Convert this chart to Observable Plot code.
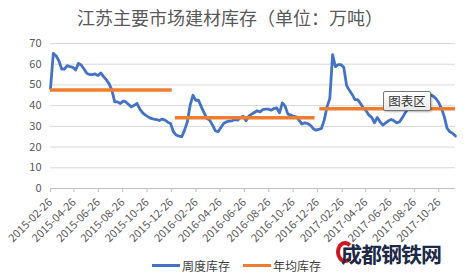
<!DOCTYPE html>
<html>
<head>
<meta charset="utf-8">
<script src="https://cdn.jsdelivr.net/npm/d3@7"></script>
<script src="https://cdn.jsdelivr.net/npm/@observablehq/plot@0.6"></script>
<style>
  html, body { margin: 0; padding: 0; background: #ffffff; }
  #wrap { position: relative; width: 471px; height: 276px; overflow: hidden; font-family: "Noto Sans CJK SC", "Noto Sans", sans-serif; }
  #title { position: absolute; left: 0; top: 4px; width: 460px; text-align: center; font-size: 18px; color: #595959; }
  .leg { position: absolute; top: 257px; font-size: 12px; color: #404040; display: flex; align-items: center; }
  .leg span.sw { display: inline-block; width: 28px; height: 3px; margin-right: 2px; }
  #tip { position: absolute; left: 383px; top: 91px; width: 46px; height: 18px; border: 1px solid #767676; border-radius: 2px;
         background: linear-gradient(#ffffff, #e8e8e8); box-shadow: 1px 1px 2px rgba(0,0,0,0.3); font-size: 12.5px; color: #333;
         text-align: center; line-height: 18px; }
  #arc { position: absolute; left: 336px; top: 241px; width: 18px; height: 22px; border: 4px solid #c8191e;
         border-right-color: transparent; border-radius: 50%; box-sizing: border-box; }
  #logo { position: absolute; left: 341px; top: 238px; font-size: 21px; font-weight: bold; color: #1c2a48; letter-spacing: -1px; }
</style>
</head>
<body>
<div id="wrap">
  <div id="chart"></div>
  <div id="title">江苏主要市场建材库存（单位：万吨）</div>
  <div class="leg" style="left:152px"><span class="sw" style="background:#4472C4"></span>周度库存</div>
  <div class="leg" style="left:243px"><span class="sw" style="background:#ED7D31"></span>年均库存</div>
  <div id="tip">图表区</div>
  <div id="arc"></div>
  <div id="logo">成都钢铁网</div>
</div>
<script>
const startDate = "2015-02-26";
const endDate = "2017-12-07";

const weeklyStock = [
  48.2, 65.2, 64.1, 61.7, 57.7, 57.7, 59.3, 58.8, 58.5, 57.2,
  60.4, 59.6, 57.7, 55.6, 55.0, 55.0, 55.3, 54.5, 55.8, 54.0,
  52.5, 50.5, 47.4, 41.8, 41.8, 41.0, 42.2, 41.8, 40.5, 39.4,
  40.2, 41.0, 38.3, 36.5, 35.4, 34.6, 33.8, 33.5, 33.3, 32.8,
  33.5, 33.0, 32.0, 31.4, 27.4, 25.8, 25.3, 25.0, 28.2, 32.2,
  40.2, 45.0, 42.6, 42.6, 39.4, 36.5, 33.8, 33.0, 30.6, 27.9,
  27.4, 29.5, 31.4, 32.2, 32.5, 32.7, 33.3, 33.0,
  34.3, 34.9, 32.7, 34.9, 35.9, 36.7, 37.5, 37.0, 38.1, 38.3,
  38.3, 37.8, 38.6, 38.9, 36.5, 41.3, 39.7, 35.9, 35.4, 34.9,
  34.6, 33.0, 31.1, 31.7, 31.4, 30.6, 29.0, 28.2, 28.5, 29.0,
  33.0, 39.4, 43.4, 64.6, 58.8, 59.8, 59.8, 58.5, 49.8, 47.4,
  45.4, 42.9, 42.9, 41.0, 38.9, 37.5, 35.4, 34.3, 31.7, 34.3,
  32.2, 30.6, 31.7, 32.7, 33.3, 32.7, 31.7, 32.2, 34.3, 36.5,
  38.6, 40.5, 42.0, 43.5, 44.5, 45.5, 46.0, 45.8, 45.2,
  44.6, 43.4, 41.5, 38.6, 34.6, 29.0, 27.4, 26.6, 25.3
];

const yearAvgStart = ["2015-02-26", "2016-01-05", "2017-01-01"];
const yearAvgEnd = ["2015-12-28", "2016-12-20", "2017-12-07"];
const yearAvgValue = [47.6, 34.1, 38.5];

const tickLabels = [
  "2015-02-26", "2015-04-26", "2015-06-26", "2015-08-26", "2015-10-26", "2015-12-26",
  "2016-02-26", "2016-04-26", "2016-06-26", "2016-08-26", "2016-10-26", "2016-12-26",
  "2017-02-26", "2017-04-26", "2017-06-26", "2017-08-26", "2017-10-26"
];
const yTicks = [0, 10, 20, 30, 40, 50, 60, 70];

const parse = d3.utcParse("%Y-%m-%d");
const start = parse(startDate);
const weekly = weeklyStock.map((v, i) => ({date: d3.utcDay.offset(start, i * 7), value: v}));
const avgs = yearAvgValue.map((v, i) => ({x1: parse(yearAvgStart[i]), x2: parse(yearAvgEnd[i]), value: v}));

const chart = Plot.plot({
  width: 471,
  height: 276,
  marginTop: 43,
  marginBottom: 88,
  marginLeft: 50,
  marginRight: 16,
  style: {fontFamily: "'Noto Sans CJK SC', 'Noto Sans', sans-serif", fontSize: "11px", color: "#595959", background: "transparent"},
  x: {
    type: "utc",
    domain: [start, parse(endDate)],
    ticks: tickLabels.map(parse),
    tickFormat: d3.utcFormat("%Y-%m-%d"),
    tickRotate: -45,
    tickSize: 4,
    label: null
  },
  y: {domain: [0, 70], ticks: yTicks, tickSize: 0, tickPadding: 9, label: null},
  marks: [
    Plot.ruleY(yTicks.filter(d => d > 0), {stroke: "#d9d9d9", strokeWidth: 1}),
    Plot.ruleY([0], {stroke: "#bfbfbf", strokeWidth: 1}),
    Plot.line(weekly, {x: "date", y: "value", stroke: "#4472C4", strokeWidth: 2.8, curve: "linear"}),
    Plot.ruleY(avgs, {y: "value", x1: "x1", x2: "x2", stroke: "#ED7D31", strokeWidth: 3.5})
  ]
});
d3.select(chart).selectAll("g[aria-label='x-axis tick'] path, g[aria-label='x-axis'] path").attr("stroke", "#bfbfbf");
document.getElementById("chart").appendChild(chart);
</script>
</body>
</html>
